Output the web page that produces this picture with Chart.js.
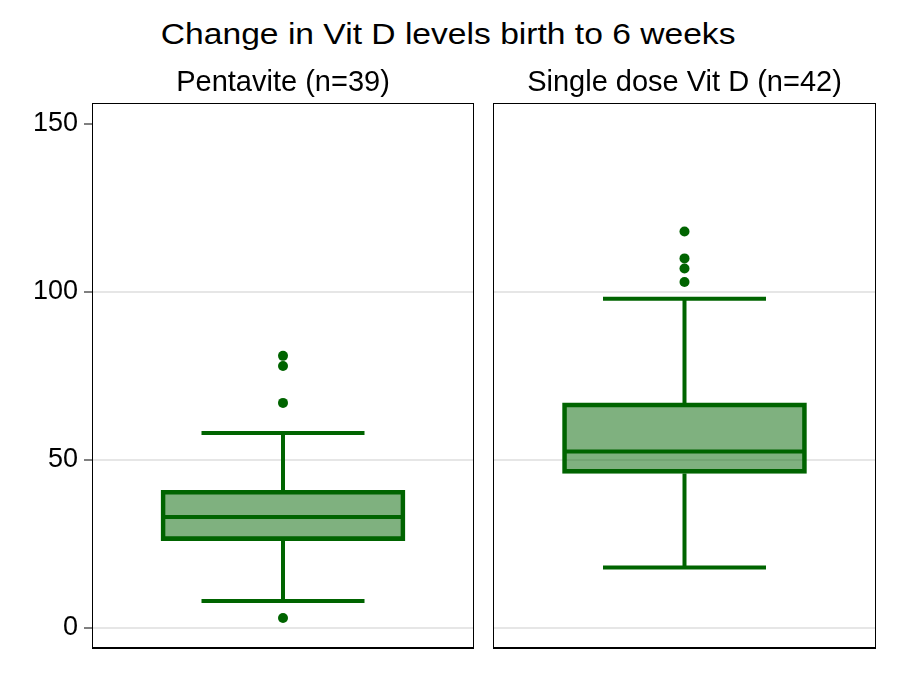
<!DOCTYPE html>
<html>
<head>
<meta charset="utf-8">
<script src="https://cdn.jsdelivr.net/npm/chart.js@4.4.1/dist/chart.umd.min.js"></script>
<style>
  html, body { margin: 0; padding: 0; background: #fff; }
  #wrap { position: relative; width: 909px; height: 689px; overflow: hidden; }
  #title { position: absolute; left: 0; top: 17px; width: 909px; text-align: center;
           font-family: "Liberation Sans", Arial, sans-serif; font-size: 30px; color: #000;
           transform: translateX(-7px) scaleX(1.12); transform-origin: 449px 0; }
  .panel { position: absolute; top: 0; height: 689px; }
</style>
</head>
<body>
<div id="wrap">
  <div id="title">Change in Vit D levels birth to 6 weeks</div>
  <div class="panel" style="left:0;width:480px"><canvas id="c1"></canvas></div>
  <div class="panel" style="left:480px;width:429px"><canvas id="c2"></canvas></div>
</div>
<script>
const groups = ['Pentavite (n=39)', 'Single dose Vit D (n=42)'];
const q1 = [26, 46];
const median = [33, 52.5];
const q3 = [41, 67];
const whiskerLow = [8, 18];
const whiskerHigh = [58, 98];
const outliers = [[81, 78, 67, 3], [118, 110, 107, 103]];
const yTicks = [0, 50, 100, 150];

const green = 'rgb(0,100,0)';
const fill = 'rgba(0,100,0,0.5)';
const font = '"Liberation Sans", Arial, sans-serif';

const whiskers = {
  id: 'whiskers',
  afterDatasetsDraw(chart, args, opts) {
    const i = opts.index;
    const x = chart.scales.x.getPixelForValue(0);
    const y = v => chart.scales.y.getPixelForValue(v);
    const cap = 81.5;
    const half = 120;
    const c = chart.ctx;
    c.save();
    c.strokeStyle = green;
    c.lineWidth = 4;
    c.beginPath();
    c.moveTo(x, y(q3[i])); c.lineTo(x, y(whiskerHigh[i]));
    c.moveTo(x, y(q1[i])); c.lineTo(x, y(whiskerLow[i]));
    c.moveTo(x - cap, y(whiskerHigh[i])); c.lineTo(x + cap, y(whiskerHigh[i]));
    c.moveTo(x - cap, y(whiskerLow[i])); c.lineTo(x + cap, y(whiskerLow[i]));
    c.moveTo(x - half, y(median[i])); c.lineTo(x + half, y(median[i]));
    c.stroke();
    c.restore();
  }
};

const frame = {
  id: 'frame',
  afterDraw(chart) {
    const a = chart.chartArea;
    const c = chart.ctx;
    c.save();
    c.strokeStyle = '#000';
    c.lineWidth = 1;
    c.strokeRect(a.left + 0.5, a.top + 0.5, a.right - a.left - 1, a.bottom - a.top - 1);
    c.lineWidth = 2;
    c.beginPath();
    c.moveTo(a.left, a.bottom - 1); c.lineTo(a.right, a.bottom - 1);
    c.stroke();
    c.restore();
  }
};

function makeChart(id, i, showTicks, pad) {
  return new Chart(document.getElementById(id), {
    type: 'bar',
    data: {
      labels: [groups[i]],
      datasets: [{
        data: [[q1[i], q3[i]]],
        backgroundColor: fill,
        borderColor: green,
        borderWidth: 4,
        borderSkipped: false,
        barThickness: 244,
        order: 2
      }, {
        type: 'line',
        data: outliers[i].map(v => ({ x: groups[i], y: v })),
        showLine: false,
        pointRadius: 5,
        pointBackgroundColor: green,
        pointBorderWidth: 0,
        order: 1
      }]
    },
    options: {
      responsive: true,
      maintainAspectRatio: false,
      animation: false,
      layout: { padding: pad },
      plugins: {
        legend: { display: false },
        tooltip: { enabled: false },
        title: {
          display: true,
          text: groups[i],
          fullSize: false,
          color: '#000',
          font: { family: font, size: 29, weight: 'normal', lineHeight: 1.2 },
          padding: { top: 65.5, bottom: 2.7 }
        },
        whiskers: { index: i }
      },
      scales: {
        x: { display: false },
        y: {
          min: -6.25,
          max: 156.25,
          afterBuildTicks: s => { s.ticks = yTicks.map(v => ({ value: v })); },
          afterFit: s => { s.width = showTicks ? 92 - pad.left : 0; },
          border: { display: false },
          grid: {
            color: c => c.tick && c.tick.value === 150 ? 'rgba(0,0,0,0)' : '#e6e6e6',
            lineWidth: 2,
            tickColor: '#000',
            tickLength: 8,
            tickWidth: 1,
            drawTicks: showTicks
          },
          ticks: {
            display: showTicks,
            color: '#000',
            padding: 6,
            font: { family: font, size: 27 }
          }
        }
      }
    },
    plugins: [whiskers, frame]
  });
}

makeChart('c1', 0, true, { left: 0, right: 6, top: 0, bottom: 40 });
makeChart('c2', 1, false, { left: 13, right: 33, top: 0, bottom: 40 });
</script>
</body>
</html>
